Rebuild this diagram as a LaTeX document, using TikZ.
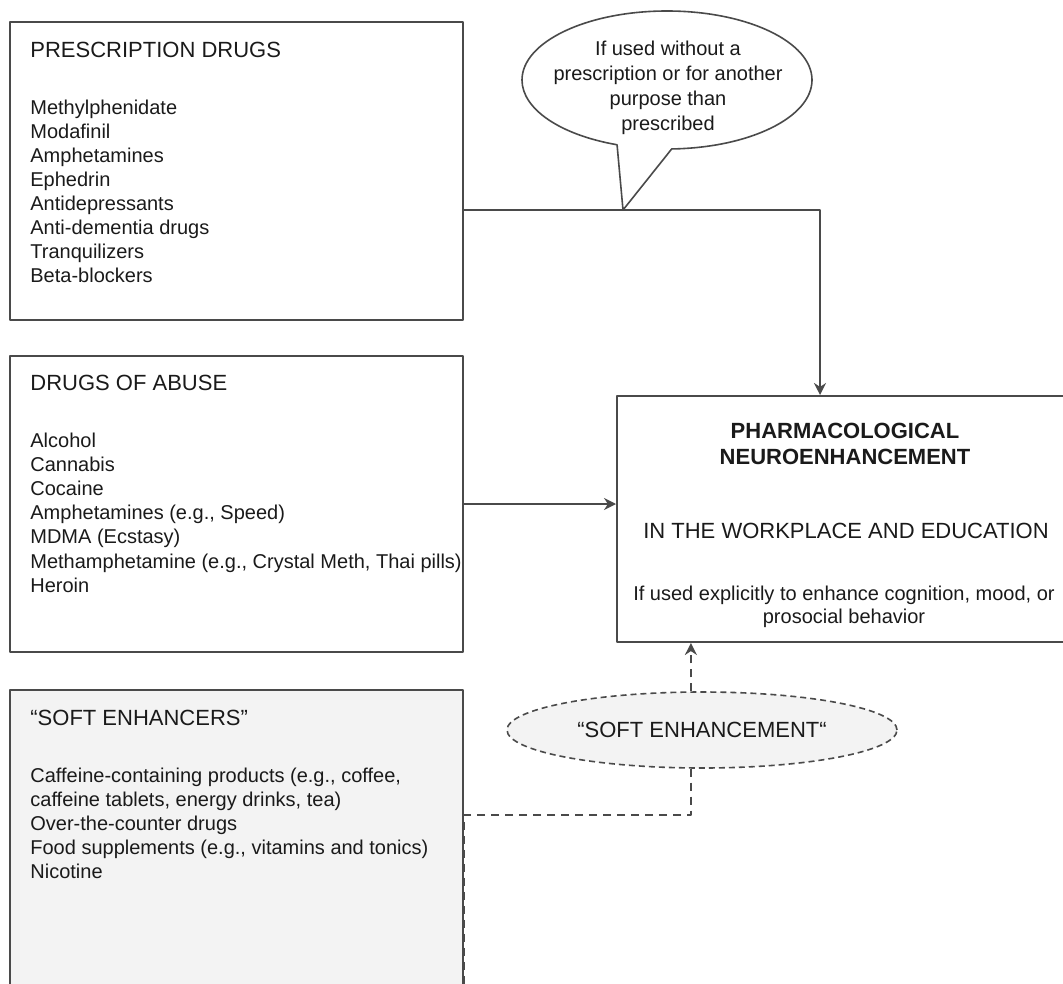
\documentclass[tikz,border=0pt]{standalone}
\usepackage{fontspec}
\setmainfont{Liberation Sans}
\usetikzlibrary{arrows.meta,shapes.geometric,shapes.callouts}
\definecolor{linegray}{HTML}{4A4A4A}
\definecolor{textgray}{HTML}{1A1A1A}
\definecolor{softfill}{HTML}{F3F3F3}
\begin{document}
\begin{tikzpicture}[x=0.5pt,y=-0.5pt,>={Stealth[length=6pt,width=6pt]},line join=round,
	font=\fontsize{10}{12}\selectfont,text=textgray,
	box/.style={draw=linegray,line width=1pt,rectangle,inner sep=0pt},
	head/.style={anchor=base west,inner sep=0pt,font=\fontsize{11}{13}\selectfont},
	item/.style={anchor=base west,inner sep=0pt},
	ctext/.style={anchor=base,inner sep=0pt},
	conn/.style={linegray,line width=1pt},
	softdash/.style={dash pattern=on 4pt off 3pt}]
		\useasboundingbox (0,0) rectangle (1063,983);
		\clip (0,0) rectangle (1063,983);
		% boxes
		\node[box,minimum width=226.5pt,minimum height=149pt] (presc) at (236.5,171) {};
		\node[box,minimum width=226.5pt,minimum height=148pt] (abuse) at (236.5,504) {};
		\node[box,fill=softfill,minimum width=226.5pt,minimum height=155pt] (soft) at (236.5,845) {};
		\node[box,minimum width=228pt,minimum height=123pt] (main) at (845,519) {};
		% prescription drugs
		\node[head] (prescT) at (30,58) {PRESCRIPTION DRUGS};
		\foreach \t [count=\i] in {Methylphenidate,Modafinil,Amphetamines,Ephedrin,Antidepressants,Anti-dementia drugs,Tranquilizers,Beta-blockers}
		\node[item] (presc\i) at (30,{115+24*(\i-1)}) {\t};
		% drugs of abuse
		\node[head] (abuseT) at (30,390) {DRUGS OF ABUSE};
		\foreach \t [count=\i] in {Alcohol,Cannabis,Cocaine,{Amphetamines (e.g., Speed)},MDMA (Ecstasy),{Methamphetamine (e.g., Crystal Meth, Thai pills)},Heroin}
		\node[item] (abuse\i) at (30,{447+24.2*(\i-1)}) {\t};
		% soft enhancers
		\node[head] (softT) at (30,725) {“SOFT ENHANCERS”};
		\foreach \t [count=\i] in {{Caffeine-containing products (e.g., coffee,},{caffeine tablets, energy drinks, tea)},Over-the-counter drugs,{Food supplements (e.g., vitamins and tonics)},Nicotine}
		\node[item] (soft\i) at (30,{782+24*(\i-1)}) {\t};
		% target
		\node[ctext,font=\fontsize{11}{13}\selectfont\bfseries] (mainA) at (845,438) {PHARMACOLOGICAL};
		\node[ctext,font=\fontsize{11}{13}\selectfont\bfseries] (mainB) at (845,464) {NEUROENHANCEMENT};
		\node[ctext,font=\fontsize{11}{13}\selectfont] (mainC) at (846,538) {IN THE WORKPLACE AND EDUCATION};
		\node[ctext] (mainD) at (844,600) {If used explicitly to enhance cognition, mood, or};
		\node[ctext] (mainE) at (844,623) {prosocial behavior};
		% connectors
		\draw[conn,->] (presc.east |- 0,210) -| (820,0 |- main.north);
		\draw[conn,->] (abuse.east) -- (abuse.east -| main.west);
		\node[ellipse callout,draw=linegray,line width=0.8pt,fill=white,minimum width=145pt,minimum height=69pt,
		callout absolute pointer={(623,210)},callout pointer arc=22] (note) at (667,80) {};
		\foreach \t [count=\i] in {If used without a,prescription or for another,purpose than,prescribed}
		\node[ctext] (note\i) at (668,{56+25*(\i-1)}) {\t};
		\node[ellipse,draw=linegray,line width=0.8pt,dash pattern=on 3pt off 2pt,fill=softfill,
		minimum width=195pt,minimum height=38pt,font=\fontsize{11}{13}\selectfont] (ell) at (702,730) {“SOFT ENHANCEMENT“};
		\draw[conn,softdash,->] (ell.106) -- (ell.106 |- main.south);
		\draw[conn,softdash] (ell.254) |- (soft.east |- 0,815) -- (soft.south east);
\end{tikzpicture}
\end{document}
